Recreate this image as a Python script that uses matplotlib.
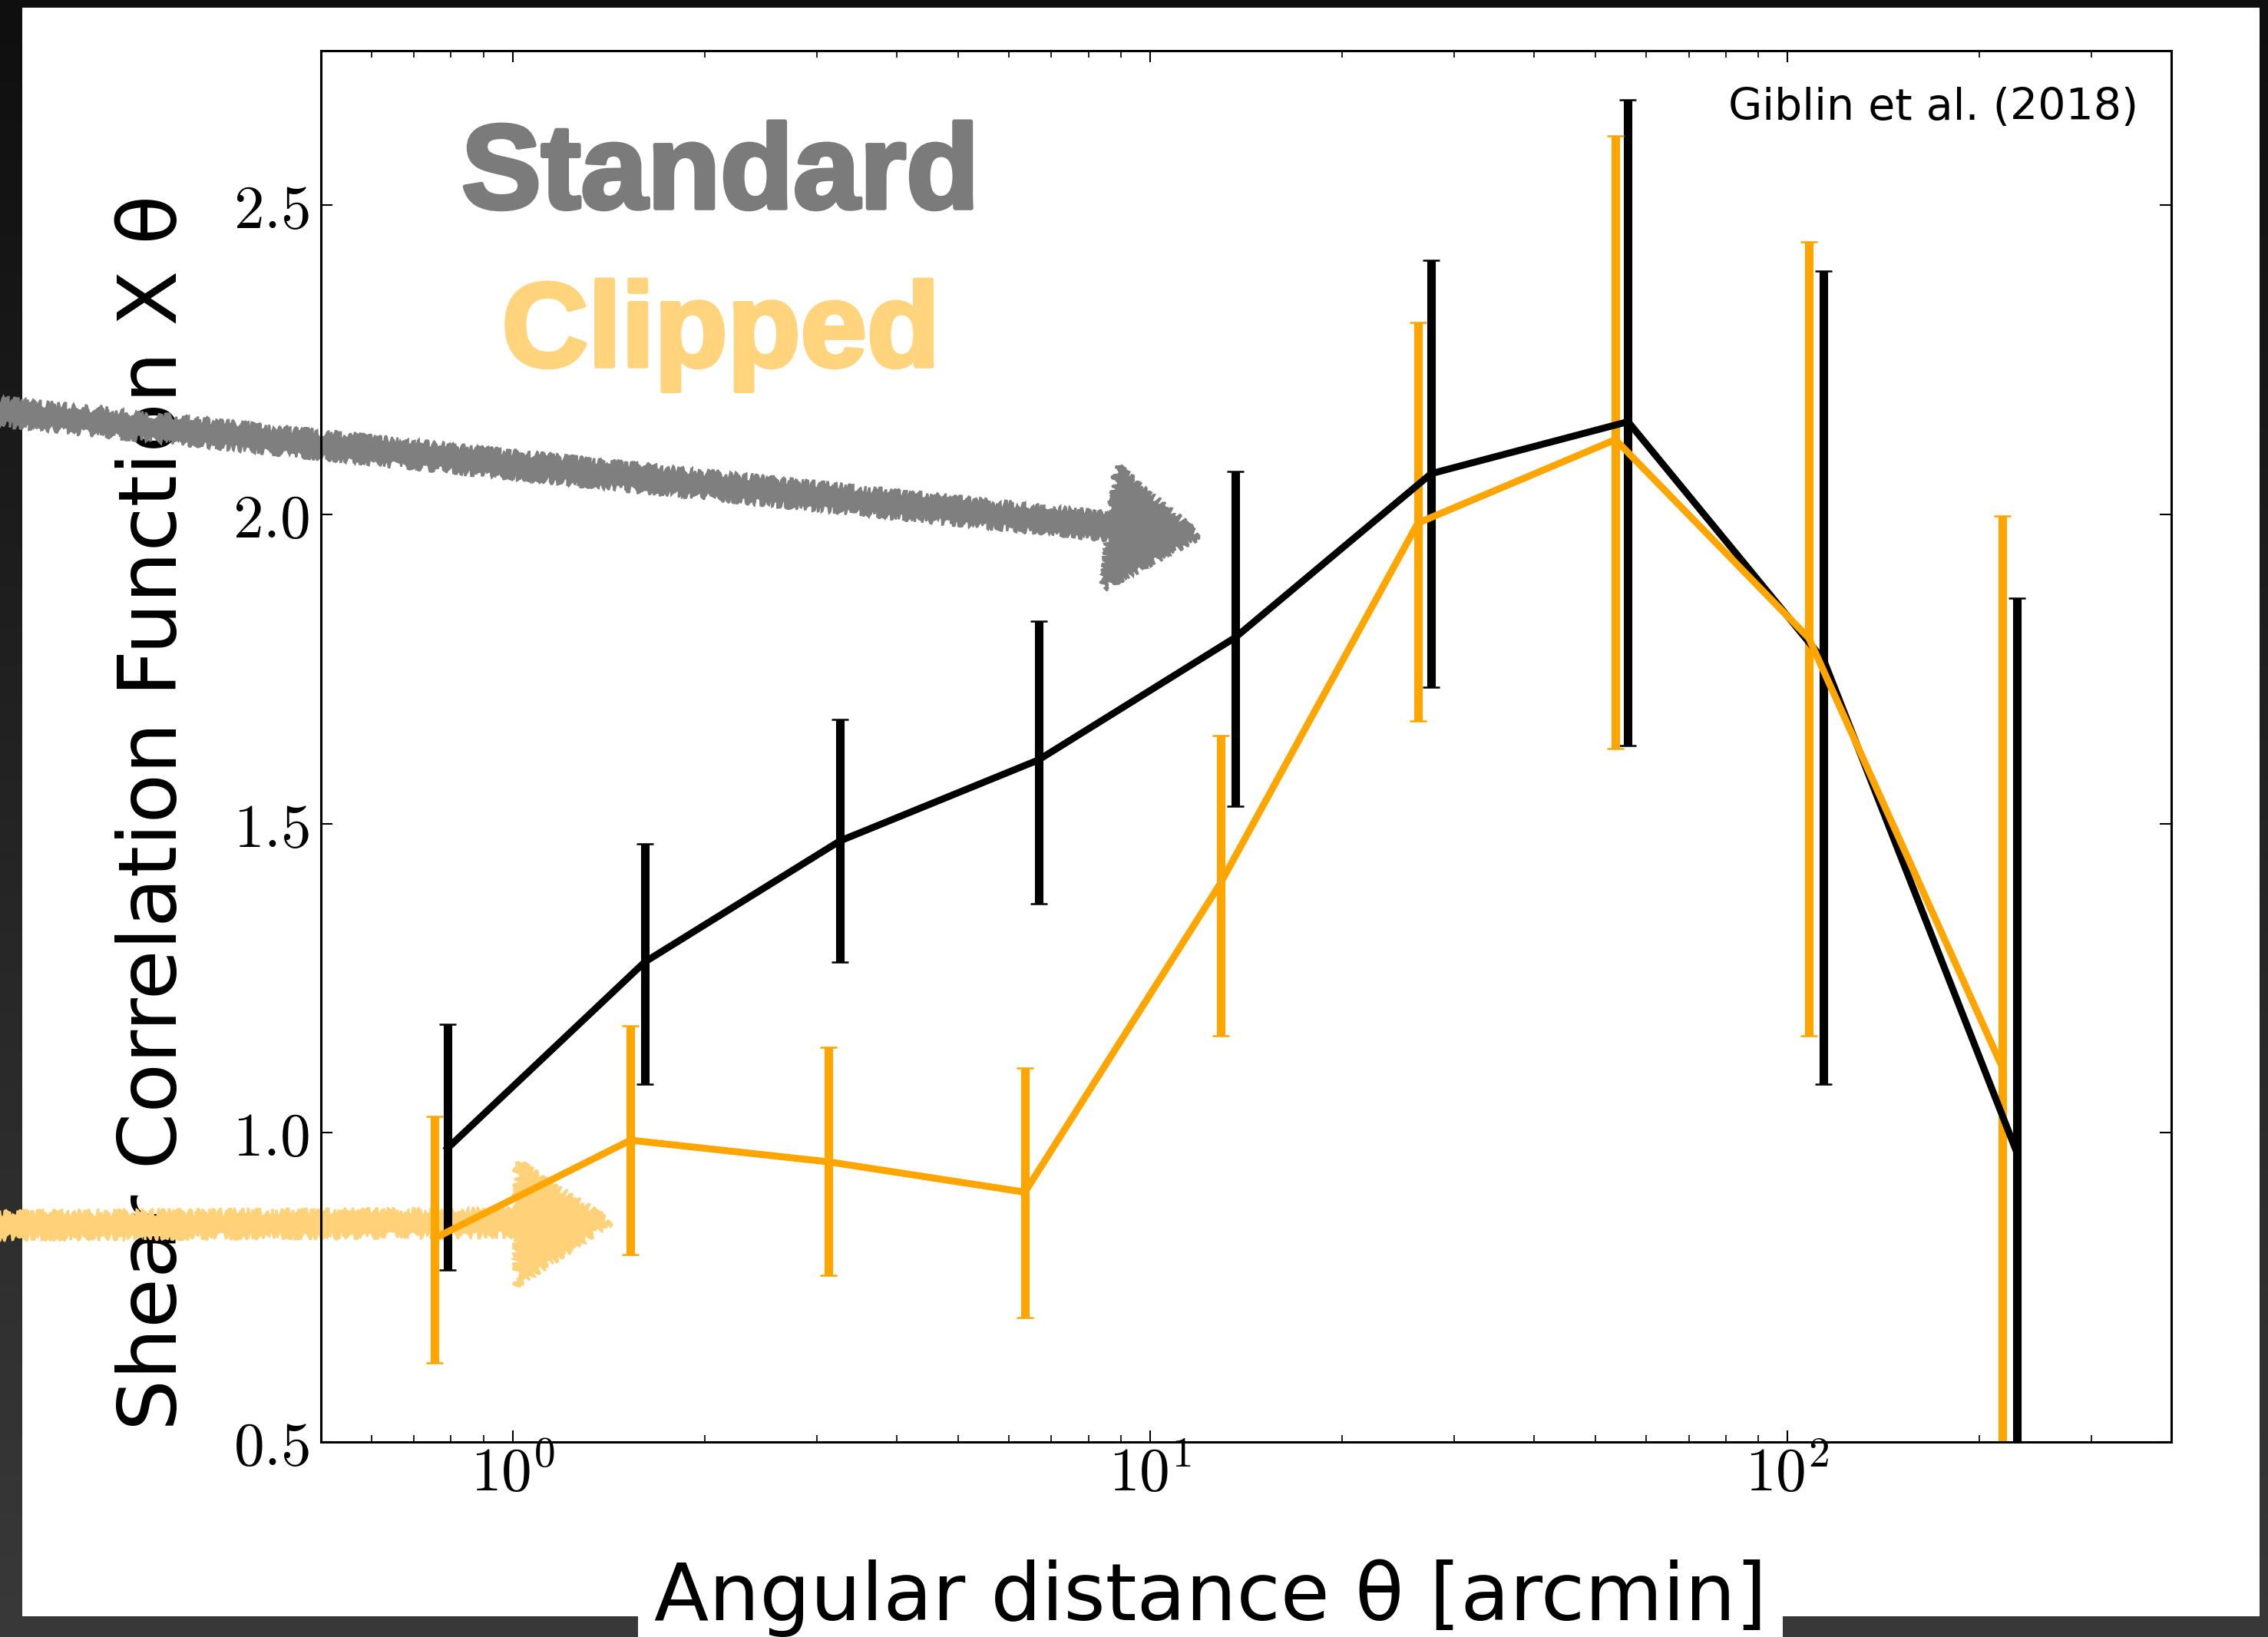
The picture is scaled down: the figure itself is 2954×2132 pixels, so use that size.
import matplotlib
matplotlib.use("Agg")
import matplotlib.pyplot as plt
import matplotlib.patheffects as pe
import numpy as np
from matplotlib.patches import FancyArrow, Rectangle
from matplotlib.transforms import Affine2D
from matplotlib.colors import LinearSegmentedColormap
from matplotlib.ticker import NullFormatter

plt.rcParams['font.family'] = ['DejaVu Sans']
plt.rcParams['mathtext.fontset'] = 'cm'

# Standard (black)
theta_std = [0.79, 1.61, 3.26, 6.68, 13.6, 27.6, 56.2, 114, 229]
xi_std = [0.975, 1.276, 1.472, 1.603, 1.801, 2.066, 2.150, 1.764, 0.968]
hi_std = [1.175, 1.467, 1.668, 1.827, 2.070, 2.411, 2.671, 2.394, 1.865]
lo_std = [0.778, 1.079, 1.276, 1.371, 1.528, 1.720, 1.626, 1.079, 0.070]

# Clipped (orange)
theta_clip = [0.753, 1.53, 3.13, 6.36, 12.9, 26.3, 53.7, 108, 217]
xi_clip = [0.829, 0.988, 0.953, 0.904, 1.404, 1.986, 2.121, 1.800, 1.107]
hi_clip = [1.026, 1.173, 1.138, 1.105, 1.643, 2.311, 2.612, 2.441, 1.998]
lo_clip = [0.628, 0.803, 0.769, 0.701, 1.157, 1.666, 1.621, 1.157, 0.216]

yticks = [0.5, 1.0, 1.5, 2.0, 2.5]
ytick_labels = [r'$0.5$', r'$1.0$', r'$1.5$', r'$2.0$', r'$2.5$']
xticks = [1, 10, 100]
xtick_labels = [r'$10^{0}$', r'$10^{1}$', r'$10^{2}$']

W, H = 2954, 2132
fig = plt.figure(figsize=(W / 100, H / 100), dpi=100)
# pixel coords, origin top-left
px = Affine2D().scale(1 / W, -1 / H).translate(0, 1) + fig.transFigure

# dark frame + white page
bg = fig.add_axes([0, 0, 1, 1], zorder=-10)
grad = np.linspace(0, 1, 256)[:, None]
cmap = LinearSegmentedColormap.from_list('frame', ['#0f0f0f', '#393939'])
bg.imshow(grad, cmap=cmap, aspect='auto', extent=[0, 1, 0, 1])
bg.set_xlim(0, 1)
bg.set_ylim(0, 1)
bg.axis('off')
bg.add_patch(Rectangle((29, 10), 2943 - 29, 2105 - 10, transform=px,
                       facecolor='white', edgecolor='none', zorder=1))

bg.text(150, 1058, 'Shear Correlation Function X θ', transform=px,
        rotation=90, ha='left', va='center', fontsize=76, zorder=3)

# hand drawn arrows
arr1 = FancyArrow(-20, 534, 1582, 164, width=30, head_width=160,
                  head_length=117, length_includes_head=True, transform=px,
                  facecolor='#7f7f7f', edgecolor='#7f7f7f', lw=2, zorder=4)
arr2 = FancyArrow(-20, 1596, 815, -4, width=30, head_width=160,
                  head_length=122, length_includes_head=True, transform=px,
                  facecolor='#ffd27a', edgecolor='#ffd27a', lw=2, zorder=4)
for a in (arr1, arr2):
    a.set_sketch_params(scale=5, length=12, randomness=14)
    bg.add_patch(a)

ax = fig.add_axes([418 / W, 1 - 1878 / H, (2828 - 418) / W, (1878 - 66) / H])
ax.set_facecolor('none')

err_std = [np.array(xi_std) - np.array(lo_std), np.array(hi_std) - np.array(xi_std)]
err_clip = [np.array(xi_clip) - np.array(lo_clip), np.array(hi_clip) - np.array(xi_clip)]

ax.errorbar(theta_std, xi_std, yerr=err_std, fmt='none', ecolor='black',
            elinewidth=8, capsize=8, capthick=1.8, zorder=2)
ax.errorbar(theta_clip, xi_clip, yerr=err_clip, fmt='none', ecolor='orange',
            elinewidth=8, capsize=8, capthick=1.8, zorder=2)
ax.plot(theta_std, xi_std, color='black', lw=6.5, zorder=3)
ax.plot(theta_clip, xi_clip, color='orange', lw=6.5, zorder=4)

ax.set_xscale('log')
ax.set_xlim(0.5, 400)
ax.set_ylim(0.5, 2.75)
ax.set_xticks(xticks)
ax.set_xticklabels(xtick_labels)
ax.xaxis.set_minor_formatter(NullFormatter())
ax.set_yticks(yticks)
ax.set_yticklabels(ytick_labels)
ax.tick_params(which='both', direction='in', top=True, right=True)
ax.tick_params(which='major', length=10.8, width=1.5, labelsize=57)
ax.tick_params(which='minor', length=6.5, width=1.2)
ax.tick_params(axis='y', pad=11)
ax.tick_params(axis='x', pad=3)
for s in ax.spines.values():
    s.set_linewidth(2.2)

fig.text(2785, 156, 'Giblin et al. (2018)', transform=px, ha='right',
         va='baseline', fontsize=41)
fig.text(938, 271, 'Standard', transform=px, ha='center', va='baseline',
         fontsize=112, fontweight='bold', family='Liberation Sans', color='#7b7b7b',
         path_effects=[pe.withStroke(linewidth=4, foreground='#7b7b7b')])
fig.text(939, 477, 'Clipped', transform=px, ha='center', va='baseline',
         fontsize=112, fontweight='bold', family='Liberation Sans', color='#ffd47c',
         path_effects=[pe.withStroke(linewidth=4, foreground='#ffd47c')])
fig.text(852, 2110, 'Angular distance θ [arcmin]', transform=px, ha='left',
         va='baseline', fontsize=75,
         bbox=dict(boxstyle='square,pad=0.2', facecolor='white', edgecolor='none'))

fig.savefig('out.png', dpi=100)
